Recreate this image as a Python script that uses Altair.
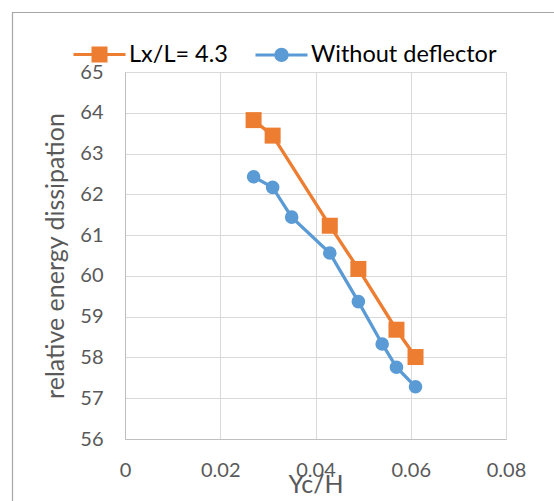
import altair as alt
import pandas as pd

SERIES = ["Lx/L= 4.3", "Without deflector"]
COLORS = ["#ED7D31", "#5B9BD5"]

x_orange = [0.027, 0.031, 0.043, 0.049, 0.057, 0.061]
y_orange = [63.82, 63.44, 61.23, 60.17, 58.68, 58.01]

x_blue = [0.027, 0.031, 0.035, 0.043, 0.049, 0.054, 0.057, 0.061]
y_blue = [62.43, 62.17, 61.44, 60.56, 59.37, 58.33, 57.76, 57.28]

x_ticks = [0, 0.02, 0.04, 0.06, 0.08]
y_ticks = [56, 57, 58, 59, 60, 61, 62, 63, 64, 65]

rows = []
for xv, yv in zip(x_orange, y_orange):
    rows.append({"series": SERIES[0], "x": xv, "y": yv, "order": len(rows)})
for xv, yv in zip(x_blue, y_blue):
    rows.append({"series": SERIES[1], "x": xv, "y": yv, "order": len(rows)})
df = pd.DataFrame(rows)

FONT = "Lato"
TICK_COLOR = "#595959"

xenc = alt.X("x:Q", scale=alt.Scale(domain=[0, 0.08], nice=False),
             axis=alt.Axis(values=x_ticks, format="~g", title="Yc/H",
                           titleFontSize=25, titleFontWeight="normal",
                           titleColor=TICK_COLOR, titleFont=FONT,
                           titlePadding=-8,
                           labelFontSize=20, labelColor=TICK_COLOR, labelFont=FONT,
                           labelPadding=21, ticks=False, domainColor="#bfbfbf",
                           gridColor="#d9d9d9", labelFlush=False))
yenc = alt.Y("y:Q", scale=alt.Scale(domain=[56, 65], nice=False, zero=False),
             axis=alt.Axis(values=y_ticks, title="relative energy dissipation",
                           titleFontSize=25, titleFontWeight="normal",
                           titleColor=TICK_COLOR, titleFont=FONT,
                           titlePadding=11,
                           labelFontSize=20, labelColor=TICK_COLOR, labelFont=FONT,
                           labelPadding=22, ticks=False, domainColor="#bfbfbf",
                           gridColor="#d9d9d9", labelFlush=False))

# legend symbols: a horizontal line plus concentric rings that read as a filled marker
sq = ("M-1,0H1"
      "M-0.25,-0.25H0.25V0.25H-0.25Z"
      "M-0.15,-0.15H0.15V0.15H-0.15Z"
      "M-0.05,-0.05H0.05V0.05H-0.05Z")
def ring(r):
    return f"M{r},0A{r},{r} 0 1,1 -{r},0A{r},{r} 0 1,1 {r},0Z"
ci = "M-1,0H1" + ring(0.22) + ring(0.12) + ring(0.03)

legend = alt.Legend(
    orient="none", legendX=-53, legendY=-45, direction="horizontal", title=None,
    labelFont=FONT, labelFontSize=23.5, labelColor="#000000", labelOffset=2,
    labelLimit=400,
    symbolSize=2704, symbolStrokeWidth=3, columnPadding=21, padding=0,
    symbolOpacity=1,
)

layers = []
frame = alt.Chart(alt.InlineData(values=[{"a": 1}])).mark_rect(
    fill=None, stroke="#a6a6a6", strokeWidth=1.2
).encode(
    x=alt.value(-112.5), x2=alt.value(800),
    y=alt.value(-59.5), y2=alt.value(800),
)
layers.append(frame)

marker_shapes = ["square", "circle"]
marker_sizes = [256, 185]
for s, c, shp, sz in zip(SERIES, COLORS, marker_shapes, marker_sizes):
    base = alt.Chart(df).transform_filter(alt.datum.series == s)
    layers.append(base.mark_line(strokeWidth=3.3, color=c).encode(
        x=xenc, y=yenc, order="order:Q"))
    layers.append(base.mark_point(filled=True, opacity=1, shape=shp, size=sz, color=c).encode(
        x=xenc, y=yenc))

legend_layer = alt.Chart(df).transform_filter("false").mark_point(
    filled=False, opacity=1, strokeWidth=3
).encode(
    x=xenc, y=yenc,
    color=alt.Color("series:N", scale=alt.Scale(domain=SERIES, range=COLORS), legend=legend),
    shape=alt.Shape("series:N", scale=alt.Scale(domain=SERIES, range=[sq, ci]), legend=legend),
)
layers.append(legend_layer)

chart = alt.layer(*layers).properties(
    width=381, height=367,
    autosize=alt.AutoSizeParams(type="none"),
    padding={"left": 125, "top": 72, "right": 48, "bottom": 62},
    background="white",
).configure_view(stroke=None)

chart.save("out.html", embed_options={"renderer": "svg", "actions": False})
